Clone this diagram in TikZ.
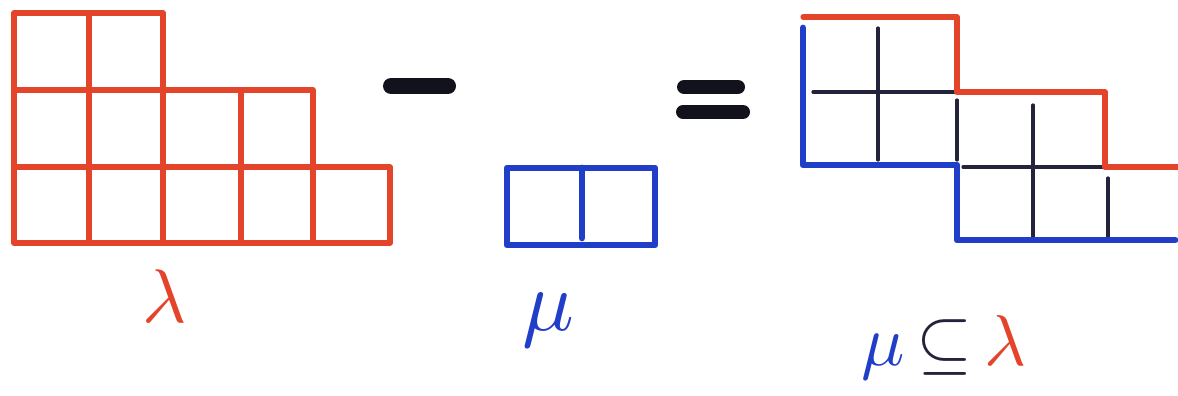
\documentclass[tikz,border=0pt]{standalone}
\usepackage{graphicx}
\usepackage{amssymb}
\definecolor{mred}{RGB}{228,68,42}
\definecolor{mblue}{RGB}{32,62,200}
\definecolor{mdark}{RGB}{35,35,60}
\definecolor{mblack}{RGB}{18,18,28}
\tikzset{
  redline/.style={draw=mred, line width=2.6pt, line cap=round, line join=round},
  blueline/.style={draw=mblue, line width=3.4pt, line cap=round, line join=round},
  innerline/.style={draw=mdark, line width=1.6pt, line cap=round},
  opbar/.style={draw=mblack, line width=8pt, line cap=round},
  lbl/.style={inner sep=0pt}
}
\begin{document}
\begin{tikzpicture}[x=0.5pt, y=-0.5pt]
\useasboundingbox[fill=white] (0,0) rectangle (1178,396);
% lambda diagram (rows 2,4,5)
\draw[redline] (14,243) -- (14,13) -- (163,13) -- (163,90) -- (313,90) -- (313,167) -- (390,167) -- (390,243) -- cycle;
\draw[redline] (14,90) -- (163,90);
\draw[redline] (14,167) -- (313,167);
\draw[redline] (89,13) -- (89,243);
\draw[redline] (163,90) -- (163,243);
\draw[redline] (241,90) -- (241,243);
\draw[redline] (313,167) -- (313,243);
% minus
\draw[opbar] (391,86) -- (448,86);
% mu diagram
\draw[blueline] (507,168) rectangle (655,245);
\draw[blueline] (582,168) -- (582,238);
% equals
\draw[opbar, line width=7pt] (684,87) -- (738,87);
\draw[opbar, line width=7pt] (683,112) -- (743,112);
% skew diagram lambda/mu
\draw[innerline] (878,28) -- (878,160);
\draw[innerline] (813,92) -- (955,92);
\draw[innerline] (957,100) -- (957,160);
\draw[innerline] (1033,105) -- (1033,238);
\draw[innerline] (963,167) -- (1105,167);
\draw[innerline] (1108,178) -- (1108,238);
\draw[redline] (803,17) -- (957,17) -- (957,92) -- (1105,92) -- (1105,167) -- (1178,167);
\draw[blueline] (803,28) -- (803,165) -- (957,165) -- (957,240) -- (1175,240);
% labels
\node[lbl, text=mred] (lam) at (165,296) {\scalebox{3.8}{$\lambda$}};
\node[lbl, text=mblue] (mu) at (548,320) {\scalebox{4.3}{$\mu$}};
\node[lbl] (rel) at (944,347) {\scalebox{3.6}{\textcolor{mblue}{$\mu$}\,\textcolor{mdark}{$\subseteq$}\,\textcolor{mred}{$\lambda$}}};
\end{tikzpicture}
\end{document}
